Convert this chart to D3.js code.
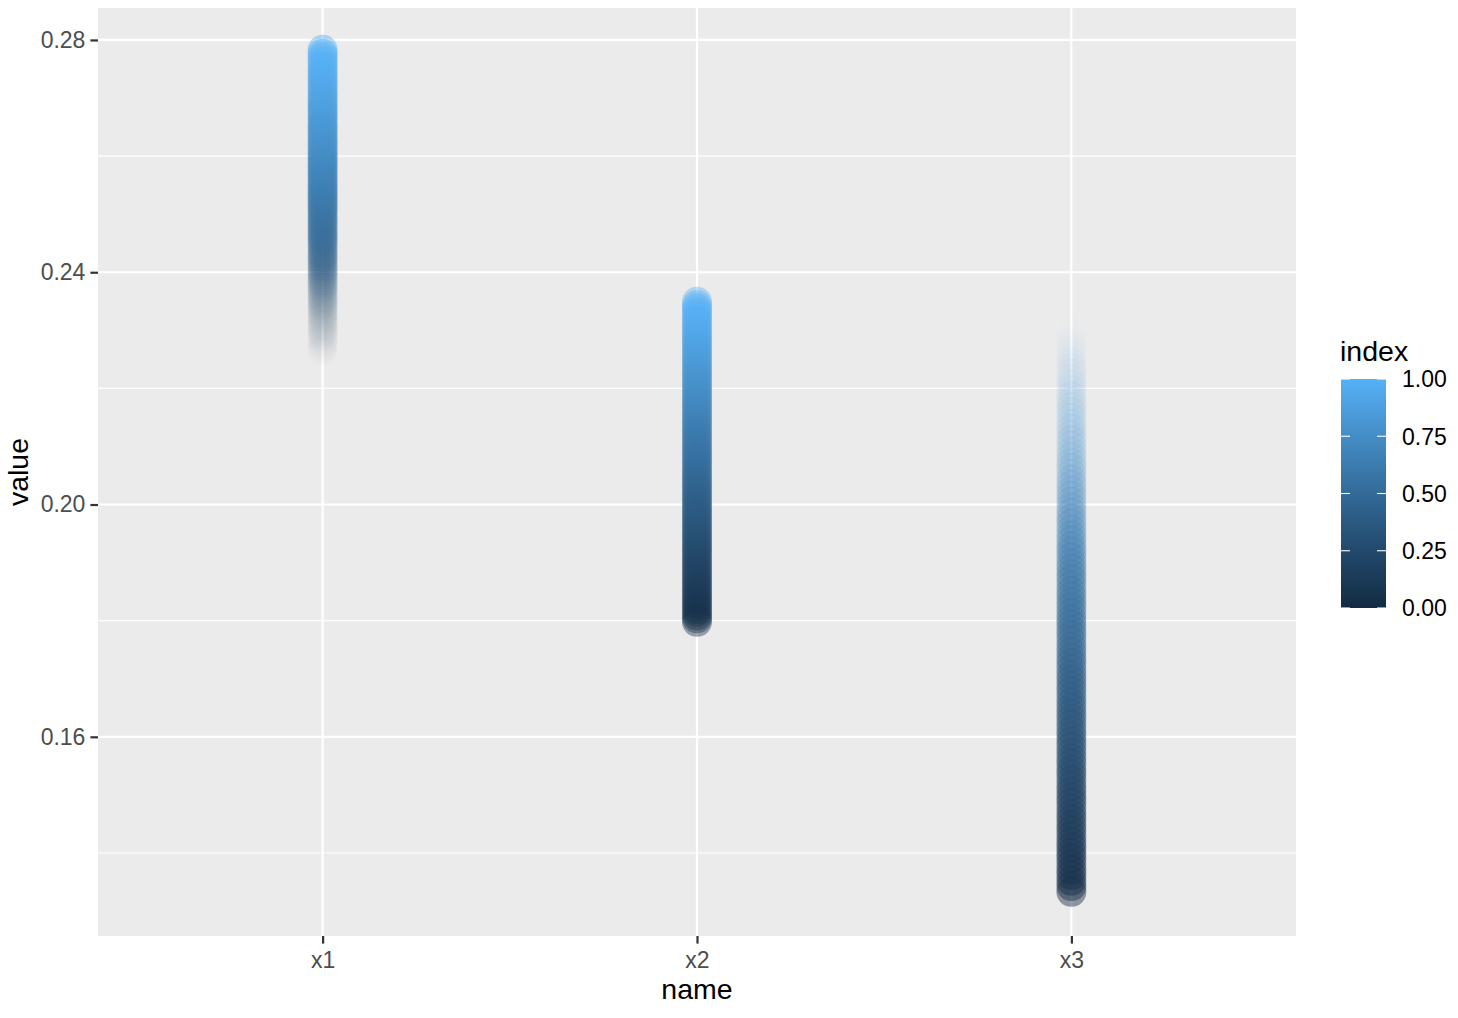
<!DOCTYPE html>
<html>
<head>
<meta charset="utf-8">
<script src="https://cdn.jsdelivr.net/npm/d3@7"></script>
<style>
  html, body { margin: 0; padding: 0; background: #fff; }
  svg { display: block; font-family: "Liberation Sans", Arial, Helvetica, sans-serif; }
</style>
</head>
<body>
<svg id="chart" width="1458" height="1018"></svg>
<script>
const names = ["x1", "x2", "x3"];

const index = [0.00, 0.01, 0.02, 0.03, 0.04, 0.05, 0.06, 0.07, 0.08, 0.09,
  0.10, 0.11, 0.12, 0.13, 0.14, 0.15, 0.16, 0.17, 0.18, 0.19,
  0.20, 0.21, 0.22, 0.23, 0.24, 0.25, 0.26, 0.27, 0.28, 0.29,
  0.30, 0.31, 0.32, 0.33, 0.34, 0.35, 0.36, 0.37, 0.38, 0.39,
  0.40, 0.41, 0.42, 0.43, 0.44, 0.45, 0.46, 0.47, 0.48, 0.49,
  0.50, 0.51, 0.52, 0.53, 0.54, 0.55, 0.56, 0.57, 0.58, 0.59,
  0.60, 0.61, 0.62, 0.63, 0.64, 0.65, 0.66, 0.67, 0.68, 0.69,
  0.70, 0.71, 0.72, 0.73, 0.74, 0.75, 0.76, 0.77, 0.78, 0.79,
  0.80, 0.81, 0.82, 0.83, 0.84, 0.85, 0.86, 0.87, 0.88, 0.89,
  0.90, 0.91, 0.92, 0.93, 0.94, 0.95, 0.96, 0.97, 0.98, 0.99, 1.00];

const x1 = [0.2263, 0.2264, 0.2266, 0.2268, 0.2271, 0.2273, 0.2276, 0.2279, 0.2283, 0.2286,
  0.2289, 0.2292, 0.2296, 0.2299, 0.2303, 0.2307, 0.2311, 0.2315, 0.2319, 0.2323,
  0.2327, 0.2331, 0.2336, 0.2340, 0.2344, 0.2348, 0.2353, 0.2357, 0.2362, 0.2367,
  0.2372, 0.2376, 0.2381, 0.2386, 0.2391, 0.2396, 0.2401, 0.2406, 0.2411, 0.2416,
  0.2421, 0.2426, 0.2431, 0.2436, 0.2442, 0.2447, 0.2453, 0.2458, 0.2463, 0.2468,
  0.2474, 0.2479, 0.2485, 0.2490, 0.2496, 0.2502, 0.2508, 0.2513, 0.2519, 0.2525,
  0.2531, 0.2536, 0.2542, 0.2548, 0.2554, 0.2560, 0.2566, 0.2572, 0.2578, 0.2584,
  0.2590, 0.2596, 0.2602, 0.2608, 0.2615, 0.2621, 0.2627, 0.2633, 0.2640, 0.2646,
  0.2652, 0.2658, 0.2665, 0.2671, 0.2678, 0.2684, 0.2690, 0.2696, 0.2703, 0.2709,
  0.2716, 0.2723, 0.2730, 0.2736, 0.2743, 0.2749, 0.2756, 0.2763, 0.2770, 0.2776, 0.2783];

const x2 = [0.1798, 0.1804, 0.1809, 0.1815, 0.1820, 0.1826, 0.1831, 0.1837, 0.1842, 0.1848,
  0.1853, 0.1859, 0.1864, 0.1870, 0.1875, 0.1881, 0.1886, 0.1892, 0.1897, 0.1903,
  0.1908, 0.1914, 0.1919, 0.1925, 0.1930, 0.1936, 0.1941, 0.1947, 0.1952, 0.1958,
  0.1963, 0.1969, 0.1974, 0.1980, 0.1985, 0.1991, 0.1996, 0.2002, 0.2007, 0.2013,
  0.2018, 0.2024, 0.2029, 0.2035, 0.2040, 0.2046, 0.2051, 0.2057, 0.2062, 0.2068,
  0.2074, 0.2079, 0.2085, 0.2090, 0.2096, 0.2101, 0.2107, 0.2112, 0.2118, 0.2123,
  0.2129, 0.2134, 0.2140, 0.2145, 0.2151, 0.2156, 0.2162, 0.2167, 0.2173, 0.2178,
  0.2184, 0.2189, 0.2195, 0.2200, 0.2206, 0.2211, 0.2217, 0.2222, 0.2228, 0.2233,
  0.2239, 0.2244, 0.2250, 0.2255, 0.2261, 0.2266, 0.2272, 0.2277, 0.2283, 0.2288,
  0.2294, 0.2299, 0.2305, 0.2310, 0.2316, 0.2321, 0.2327, 0.2332, 0.2338, 0.2343, 0.2349];

const x3 = [0.1333, 0.1343, 0.1352, 0.1362, 0.1371, 0.1381, 0.1391, 0.1400, 0.1410, 0.1419,
  0.1429, 0.1439, 0.1448, 0.1458, 0.1467, 0.1477, 0.1487, 0.1496, 0.1506, 0.1515,
  0.1525, 0.1535, 0.1544, 0.1554, 0.1563, 0.1573, 0.1583, 0.1592, 0.1602, 0.1611,
  0.1621, 0.1631, 0.1640, 0.1650, 0.1659, 0.1669, 0.1679, 0.1688, 0.1698, 0.1707,
  0.1717, 0.1727, 0.1736, 0.1746, 0.1755, 0.1765, 0.1775, 0.1784, 0.1794, 0.1803,
  0.1813, 0.1823, 0.1832, 0.1842, 0.1851, 0.1861, 0.1871, 0.1880, 0.1890, 0.1899,
  0.1909, 0.1919, 0.1928, 0.1938, 0.1947, 0.1957, 0.1967, 0.1976, 0.1986, 0.1995,
  0.2005, 0.2015, 0.2024, 0.2034, 0.2043, 0.2053, 0.2063, 0.2072, 0.2082, 0.2091,
  0.2101, 0.2111, 0.2120, 0.2130, 0.2139, 0.2149, 0.2159, 0.2168, 0.2178, 0.2187,
  0.2197, 0.2207, 0.2216, 0.2226, 0.2235, 0.2245, 0.2255, 0.2264, 0.2274, 0.2283, 0.2293];

// point opacity per series
const alpha1 = [0.002, 0.0025, 0.003, 0.004, 0.005, 0.006, 0.007, 0.0085, 0.010, 0.0115,
  0.013, 0.015, 0.017, 0.019, 0.021, 0.0235, 0.026, 0.029, 0.032, 0.035,
  0.038, 0.041, 0.045, 0.050, 0.054, 0.060, 0.065, 0.071, 0.078, 0.086,
  0.094, 0.102, 0.111, 0.121, 0.131, 0.141, 0.151, 0.160, 0.169, 0.180,
  0.191, 0.202, 0.213, 0.222, 0.232, 0.242, 0.252, 0.262, 0.272, 0.282,
  0.293, 0.303, 0.314, 0.325, 0.337, 0.348, 0.360, 0.372, 0.384, 0.396,
  0.408, 0.412, 0.416, 0.420, 0.425, 0.430, 0.435, 0.440, 0.445, 0.450,
  0.450, 0.450, 0.450, 0.450, 0.450, 0.450, 0.450, 0.450, 0.450, 0.450,
  0.450, 0.450, 0.450, 0.450, 0.450, 0.450, 0.450, 0.450, 0.450, 0.450,
  0.450, 0.450, 0.450, 0.450, 0.450, 0.450, 0.450, 0.450, 0.450, 0.450, 0.450];

const alpha2 = [0.40, 0.40, 0.40, 0.40, 0.40, 0.40, 0.40, 0.40, 0.40, 0.40,
  0.40, 0.40, 0.40, 0.40, 0.40, 0.40, 0.40, 0.40, 0.40, 0.40,
  0.40, 0.40, 0.40, 0.40, 0.40, 0.40, 0.40, 0.40, 0.40, 0.40,
  0.40, 0.40, 0.40, 0.40, 0.40, 0.40, 0.40, 0.40, 0.40, 0.40,
  0.40, 0.40, 0.40, 0.40, 0.40, 0.40, 0.40, 0.40, 0.40, 0.40,
  0.40, 0.40, 0.40, 0.40, 0.40, 0.40, 0.40, 0.40, 0.40, 0.40,
  0.40, 0.40, 0.40, 0.40, 0.40, 0.40, 0.40, 0.40, 0.40, 0.40,
  0.40, 0.40, 0.40, 0.40, 0.40, 0.40, 0.40, 0.40, 0.40, 0.40,
  0.40, 0.40, 0.40, 0.40, 0.40, 0.40, 0.40, 0.40, 0.40, 0.40,
  0.40, 0.40, 0.40, 0.40, 0.40, 0.40, 0.40, 0.40, 0.40, 0.40, 0.40];

const alpha3 = [0.450, 0.450, 0.450, 0.450, 0.450, 0.450, 0.450, 0.450, 0.450, 0.450,
  0.450, 0.449, 0.448, 0.447, 0.446, 0.445, 0.444, 0.443, 0.442, 0.441,
  0.440, 0.439, 0.438, 0.437, 0.436, 0.435, 0.434, 0.433, 0.432, 0.431,
  0.430, 0.428, 0.426, 0.424, 0.422, 0.420, 0.418, 0.416, 0.414, 0.412,
  0.410, 0.407, 0.404, 0.401, 0.398, 0.395, 0.392, 0.389, 0.386, 0.383,
  0.380, 0.374, 0.369, 0.363, 0.358, 0.352, 0.347, 0.341, 0.336, 0.330,
  0.325, 0.313, 0.302, 0.290, 0.279, 0.267, 0.256, 0.244, 0.233, 0.221,
  0.210, 0.201, 0.192, 0.183, 0.174, 0.165, 0.156, 0.147, 0.138, 0.129,
  0.120, 0.114, 0.109, 0.103, 0.098, 0.092, 0.086, 0.081, 0.075, 0.070,
  0.064, 0.057, 0.050, 0.043, 0.037, 0.030, 0.026, 0.021, 0.017, 0.012, 0.008];

const yMajor = [0.16, 0.20, 0.24, 0.28];
const yMinor = [0.14, 0.18, 0.22, 0.26];
const legendBreaks = [0, 0.25, 0.5, 0.75, 1];

const series = { x1: x1, x2: x2, x3: x3 };
const alphas = { x1: alpha1, x2: alpha2, x3: alpha3 };

// long format, row order like pivot_longer: by index, then name
const points = [];
index.forEach((idx, i) => {
  names.forEach(n => {
    points.push({ name: n, index: idx, value: series[n][i], alpha: alphas[n][i] });
  });
});

const panel = { left: 98, right: 1296, top: 8, bottom: 936 };

const svg = d3.select('#chart');

const x = d3.scalePoint()
  .domain(names)
  .range([panel.left, panel.right])
  .padding(0.6);

const y = d3.scaleLinear()
  .domain([0.1257, 0.2855])
  .range([panel.bottom, panel.top]);

const color = d3.scaleLinear()
  .domain([0, 1])
  .range(['#132B43', '#56B1F7'])
  .interpolate(d3.interpolateLab);

// panel background
svg.append('rect')
  .attr('x', panel.left)
  .attr('y', panel.top)
  .attr('width', panel.right - panel.left)
  .attr('height', panel.bottom - panel.top)
  .attr('fill', '#EBEBEB');

const grid = svg.append('g');
grid.selectAll('line.minor').data(yMinor).enter().append('line')
  .attr('x1', panel.left).attr('x2', panel.right)
  .attr('y1', d => y(d)).attr('y2', d => y(d))
  .attr('stroke', '#fff').attr('stroke-width', 1.1);
grid.selectAll('line.major').data(yMajor).enter().append('line')
  .attr('x1', panel.left).attr('x2', panel.right)
  .attr('y1', d => y(d)).attr('y2', d => y(d))
  .attr('stroke', '#fff').attr('stroke-width', 2.2);
grid.selectAll('line.vmajor').data(names).enter().append('line')
  .attr('x1', d => x(d)).attr('x2', d => x(d))
  .attr('y1', panel.top).attr('y2', panel.bottom)
  .attr('stroke', '#fff').attr('stroke-width', 2.2);

// points
svg.append('g')
  .selectAll('circle').data(points).enter().append('circle')
  .attr('cx', d => x(d.name))
  .attr('cy', d => y(d.value))
  .attr('r', 15)
  .attr('fill', d => color(d.index))
  .attr('fill-opacity', d => d.alpha);

// y axis
const yAxis = svg.append('g')
  .attr('transform', `translate(${panel.left},0)`)
  .call(d3.axisLeft(y).tickValues(yMajor).tickFormat(d3.format('.2f')).tickSize(7.6).tickPadding(5));
yAxis.select('.domain').remove();
yAxis.selectAll('.tick line').attr('stroke', '#333').attr('stroke-width', 2.2);
yAxis.selectAll('.tick text')
  .attr('fill', '#4D4D4D')
  .attr('font-size', 23)
  .attr('font-family', '"Liberation Sans", Arial, sans-serif');

// x axis
const xAxis = svg.append('g')
  .attr('transform', `translate(0,${panel.bottom})`)
  .call(d3.axisBottom(x).tickSize(7.6).tickPadding(8));
xAxis.select('.domain').remove();
xAxis.selectAll('.tick line').attr('stroke', '#333').attr('stroke-width', 2.2);
xAxis.selectAll('.tick text')
  .attr('fill', '#4D4D4D')
  .attr('font-size', 23)
  .attr('font-family', '"Liberation Sans", Arial, sans-serif');

// axis titles
svg.append('text')
  .attr('x', (panel.left + panel.right) / 2)
  .attr('y', 999)
  .attr('text-anchor', 'middle')
  .attr('font-size', 28.5)
  .attr('fill', '#000')
  .text('name');

svg.append('text')
  .attr('transform', `translate(28,${(panel.top + panel.bottom) / 2}) rotate(-90)`)
  .attr('text-anchor', 'middle')
  .attr('font-size', 28.5)
  .attr('fill', '#000')
  .text('value');

// legend
const leg = { x: 1341, y: 379, w: 45, h: 229 };
const legScale = d3.scaleLinear().domain([0, 1]).range([leg.y + leg.h, leg.y]);

const defs = svg.append('defs');
const grad = defs.append('linearGradient')
  .attr('id', 'legGrad')
  .attr('x1', 0).attr('y1', 1).attr('x2', 0).attr('y2', 0);
grad.selectAll('stop').data(d3.range(0, 1.0001, 0.05)).enter().append('stop')
  .attr('offset', d => d)
  .attr('stop-color', d => color(d));

svg.append('text')
  .attr('x', 1340)
  .attr('y', 361)
  .attr('font-size', 28.5)
  .attr('fill', '#000')
  .text('index');

svg.append('rect')
  .attr('x', leg.x).attr('y', leg.y)
  .attr('width', leg.w).attr('height', leg.h)
  .attr('fill', 'url(#legGrad)');

const tickLen = leg.w / 5;
const legTicks = svg.append('g');
legTicks.selectAll('line.l').data(legendBreaks).enter().append('line')
  .attr('x1', leg.x).attr('x2', leg.x + tickLen)
  .attr('y1', d => legScale(d)).attr('y2', d => legScale(d))
  .attr('stroke', '#fff').attr('stroke-width', 1.1);
legTicks.selectAll('line.r').data(legendBreaks).enter().append('line')
  .attr('x1', leg.x + leg.w - tickLen).attr('x2', leg.x + leg.w)
  .attr('y1', d => legScale(d)).attr('y2', d => legScale(d))
  .attr('stroke', '#fff').attr('stroke-width', 1.1);

svg.append('g')
  .selectAll('text').data(legendBreaks).enter().append('text')
  .attr('x', 1402)
  .attr('y', d => legScale(d))
  .attr('dy', '0.36em')
  .attr('font-size', 23)
  .attr('fill', '#000')
  .text(d => d3.format('.2f')(d));
</script>
</body>
</html>
